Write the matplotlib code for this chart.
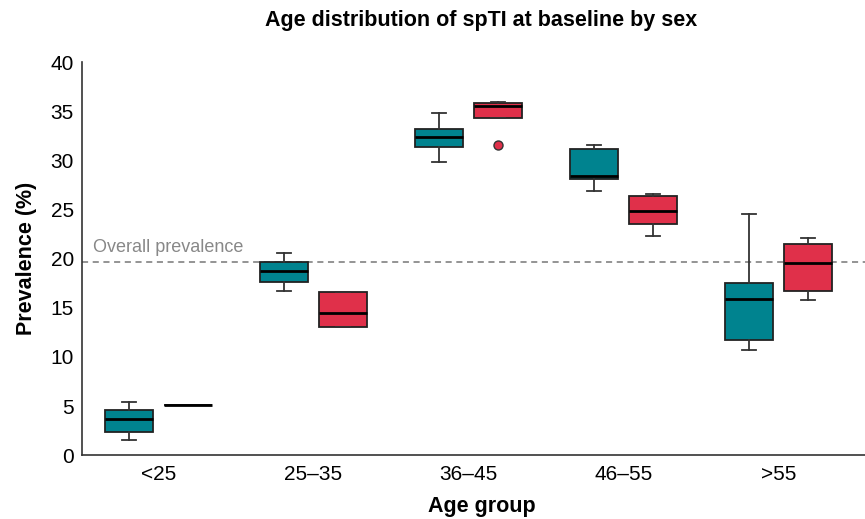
import matplotlib.pyplot as plt
import numpy as np

plt.rcParams['font.family'] = ['Liberation Sans', 'DejaVu Sans']

age_groups = ['<25', '25–35', '36–45', '46–55', '>55']
overall_prevalence = 19.7

# five-number summaries per age group: (whislo, q1, median, q3, whishi)
male_stats = [
    (1.5, 2.4, 3.7, 4.6, 5.4),
    (16.7, 17.6, 18.8, 19.7, 20.6),
    (29.8, 31.4, 32.4, 33.2, 34.8),
    (26.9, 28.1, 28.4, 31.2, 31.6),
    (10.7, 11.7, 15.9, 17.5, 24.6),
]
female_stats = [
    (5.1, 5.1, 5.1, 5.1, 5.1),
    (13.0, 13.0, 14.5, 16.6, 16.6),
    (34.3, 34.3, 35.5, 35.9, 36.0),
    (22.3, 23.5, 24.9, 26.4, 26.6),
    (15.8, 16.7, 19.6, 21.5, 22.1),
]
female_outliers = [[], [], [31.6], [], []]
male_outliers = [[], [], [], [], []]

teal = '#00838F'
red = '#E0304A'


def to_bxp(stats, outliers):
    out = []
    for (lo, q1, med, q3, hi), fl in zip(stats, outliers):
        out.append(dict(whislo=lo, q1=q1, med=med, q3=q3, whishi=hi, fliers=fl))
    return out


fig = plt.figure(figsize=(8.65, 5.19), dpi=100)
ax = fig.add_axes([0.095, 0.123, 0.905, 0.757])

x = np.arange(len(age_groups))
offset = 0.19
width = 0.31

for stats, fl, color, sign in [(male_stats, male_outliers, teal, -1),
                               (female_stats, female_outliers, red, 1)]:
    ax.bxp(to_bxp(stats, fl), positions=x + sign * offset, widths=width,
           patch_artist=True, manage_ticks=False,
           boxprops=dict(facecolor=color, edgecolor='#222222', linewidth=1.3),
           medianprops=dict(color='black', linewidth=2.0),
           whiskerprops=dict(color='#333333', linewidth=1.3),
           capprops=dict(color='#333333', linewidth=1.3),
           capwidths=0.09,
           flierprops=dict(marker='o', markerfacecolor=color, markeredgecolor='#333333',
                           markersize=6.5, markeredgewidth=1.0))

ax.axhline(overall_prevalence, color='#777777', linestyle=(0, (4, 3)), linewidth=1.1, zorder=0)
ax.text(-0.42, overall_prevalence + 0.55, 'Overall prevalence', color='#888888',
        fontsize=13, ha='left', va='bottom')

ax.set_xlim(-0.49, 4.56)
ax.set_ylim(0, 40)
ax.set_yticks(np.arange(0, 41, 5))
ax.set_xticks(x)
ax.set_xticklabels(age_groups)
ax.tick_params(axis='both', length=0, labelsize=15, pad=7)
ax.tick_params(axis='y', pad=6)

for side in ['top', 'right']:
    ax.spines[side].set_visible(False)
for side in ['left', 'bottom']:
    ax.spines[side].set_color('#333333')
    ax.spines[side].set_linewidth(1.2)

ax.set_xlabel('Age group', fontsize=15.5, fontweight='bold')
ax.xaxis.set_label_coords(0.51, -0.105)
ax.set_ylabel('Prevalence (%)', fontsize=15.5, fontweight='bold', labelpad=10)
fig.text(0.556, 0.96, 'Age distribution of spTI at baseline by sex', ha='center', va='center',
         fontsize=15.5, fontweight='bold')

plt.savefig('out.png', dpi=100)
